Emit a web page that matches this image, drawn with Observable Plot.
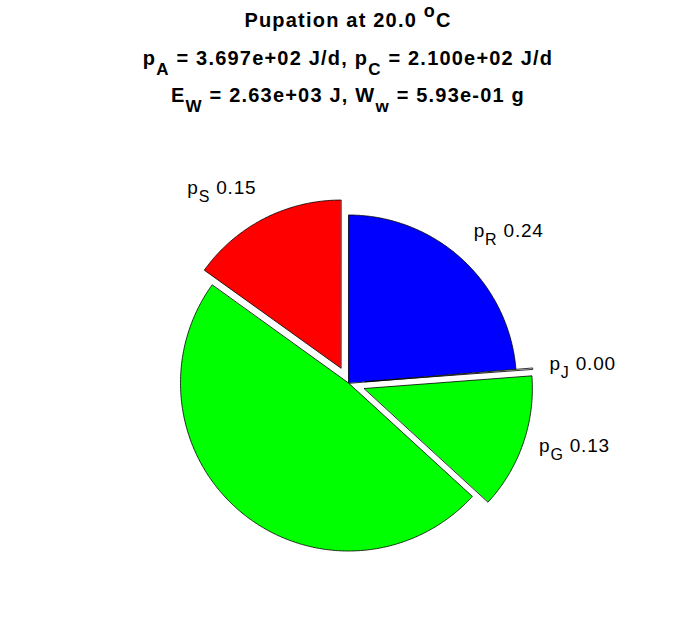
<!DOCTYPE html>
<html><head><meta charset="utf-8">
<script src="https://cdn.jsdelivr.net/npm/d3@7"></script>
<script src="https://cdn.jsdelivr.net/npm/@observablehq/plot@0.6"></script>
<style>
body{margin:0;background:#fff;width:696px;height:618px;overflow:hidden;font-family:"Liberation Sans",Arial,sans-serif;}
#title{height:130px;position:relative;}
.tl{position:absolute;left:0;width:696px;text-align:center;font-weight:bold;font-size:20px;letter-spacing:1.2px;line-height:20px;white-space:nowrap;color:#000;}
.sub{font-size:0.85em;position:relative;top:10px;}
.sup{font-size:0.9em;position:relative;top:-10px;}
</style></head><body>
<div id="title"></div>
<div id="chart"></div>
<script>
// ---- data ----
const temperature = "20.0";
const pA = "3.697e+02";
const pC = "2.100e+02";
const EW = "2.63e+03";
const Ww = "5.93e-01";
const sliceNames = ["R", "J", "G", "", "S"];
const sliceValues = [0.237, 0.001, 0.130, 0.481, 0.151];
const sliceColors = ["#0000ff", "#ffffff", "#00ff00", "#00ff00", "#ff0000"];
const sliceExplode = [0, 1, 1, 0, 1];

// ---- title ----
const titleLines = [
  `Pupation at ${temperature} <span class="sup">o</span>C`,
  `p<span class="sub">A</span> = ${pA} J/d, p<span class="sub">C</span> = ${pC} J/d`,
  `E<span class="sub">W</span> = ${EW} J, W<span class="sub">w</span> = ${Ww} g`
];
const titleTops = [10, 47.5, 85];
const tdiv = document.getElementById("title");
titleLines.forEach((h, i) => {
  const d = document.createElement("div");
  d.className = "tl";
  d.style.top = titleTops[i] + "px";
  d.innerHTML = h;
  tdiv.appendChild(d);
});

// ---- geometry ----
const W = 696, H = 488, R = 168, CX = 348, CY = 252.5;
let cum = 0;
const slices = sliceValues.map((v, i) => {
  const a0 = cum, a1 = cum + v; cum = a1;
  const mid = (a0 + a1) / 2 * 2 * Math.PI;
  const ex = sliceExplode[i] ? 0.1 : 0;
  const ox = ex * Math.sin(mid), oy = ex * Math.cos(mid);
  const n = Math.max(2, Math.ceil(v * 720));
  const pts = [{x: ox, y: oy}];
  for (let k = 0; k <= n; k++) {
    const t = (a0 + (a1 - a0) * k / n) * 2 * Math.PI;
    pts.push({x: ox + Math.sin(t), y: oy + Math.cos(t)});
  }
  return {i, v, mid, ox, oy, pts, color: sliceColors[i], name: sliceNames[i]};
});

const labels = slices.filter(s => s.name !== "").map(s => {
  const d = 1.1;
  const sx = Math.sin(s.mid), cy = Math.cos(s.mid);
  return {
    x: s.ox + d * sx, y: s.oy + d * cy,
    text: `p${s.name} ${s.v.toFixed(2)}`,
    anchor: sx >= 0 ? "start" : "end",
    dy: cy > 0.5 ? -16 : -3
  };
});

const marks = slices.map(s => Plot.line(s.pts, {
  x: "x", y: "y", fill: s.color, stroke: "black", strokeWidth: 0.8, curve: "linear-closed"
}));
for (const anchor of ["start", "end"]) {
  for (const dy of [-16, -3]) {
    const sub = labels.filter(l => l.anchor === anchor && l.dy === dy);
    if (sub.length) marks.push(Plot.text(sub, {x: "x", y: "y", text: "text", textAnchor: anchor, dy, fontSize: 19, fill: "black"}));
  }
}

const svg = Plot.plot({
  width: W, height: H, margin: 0,
  x: {domain: [-CX / R, (W - CX) / R], axis: null},
  y: {domain: [-(H - CY) / R, CY / R], axis: null},
  style: {fontFamily: "'Liberation Sans', Arial, sans-serif", background: "white", overflow: "visible"},
  marks
});

svg.querySelectorAll('g[aria-label="text"] text').forEach(t => {
  const m = t.textContent.match(/^p(\S+)( .*)$/);
  if (!m) return;
  t.textContent = "";
  t.style.letterSpacing = "0.8px";
  const ns = "http://www.w3.org/2000/svg";
  const a = document.createElementNS(ns, "tspan"); a.textContent = "p"; t.appendChild(a);
  const b = document.createElementNS(ns, "tspan"); b.textContent = m[1];
  b.setAttribute("font-size", "16"); b.setAttribute("dy", "8"); t.appendChild(b);
  const c = document.createElementNS(ns, "tspan"); c.textContent = m[2];
  c.setAttribute("dy", "-8"); t.appendChild(c);
});

document.getElementById("chart").appendChild(svg);
</script>
</body></html>
